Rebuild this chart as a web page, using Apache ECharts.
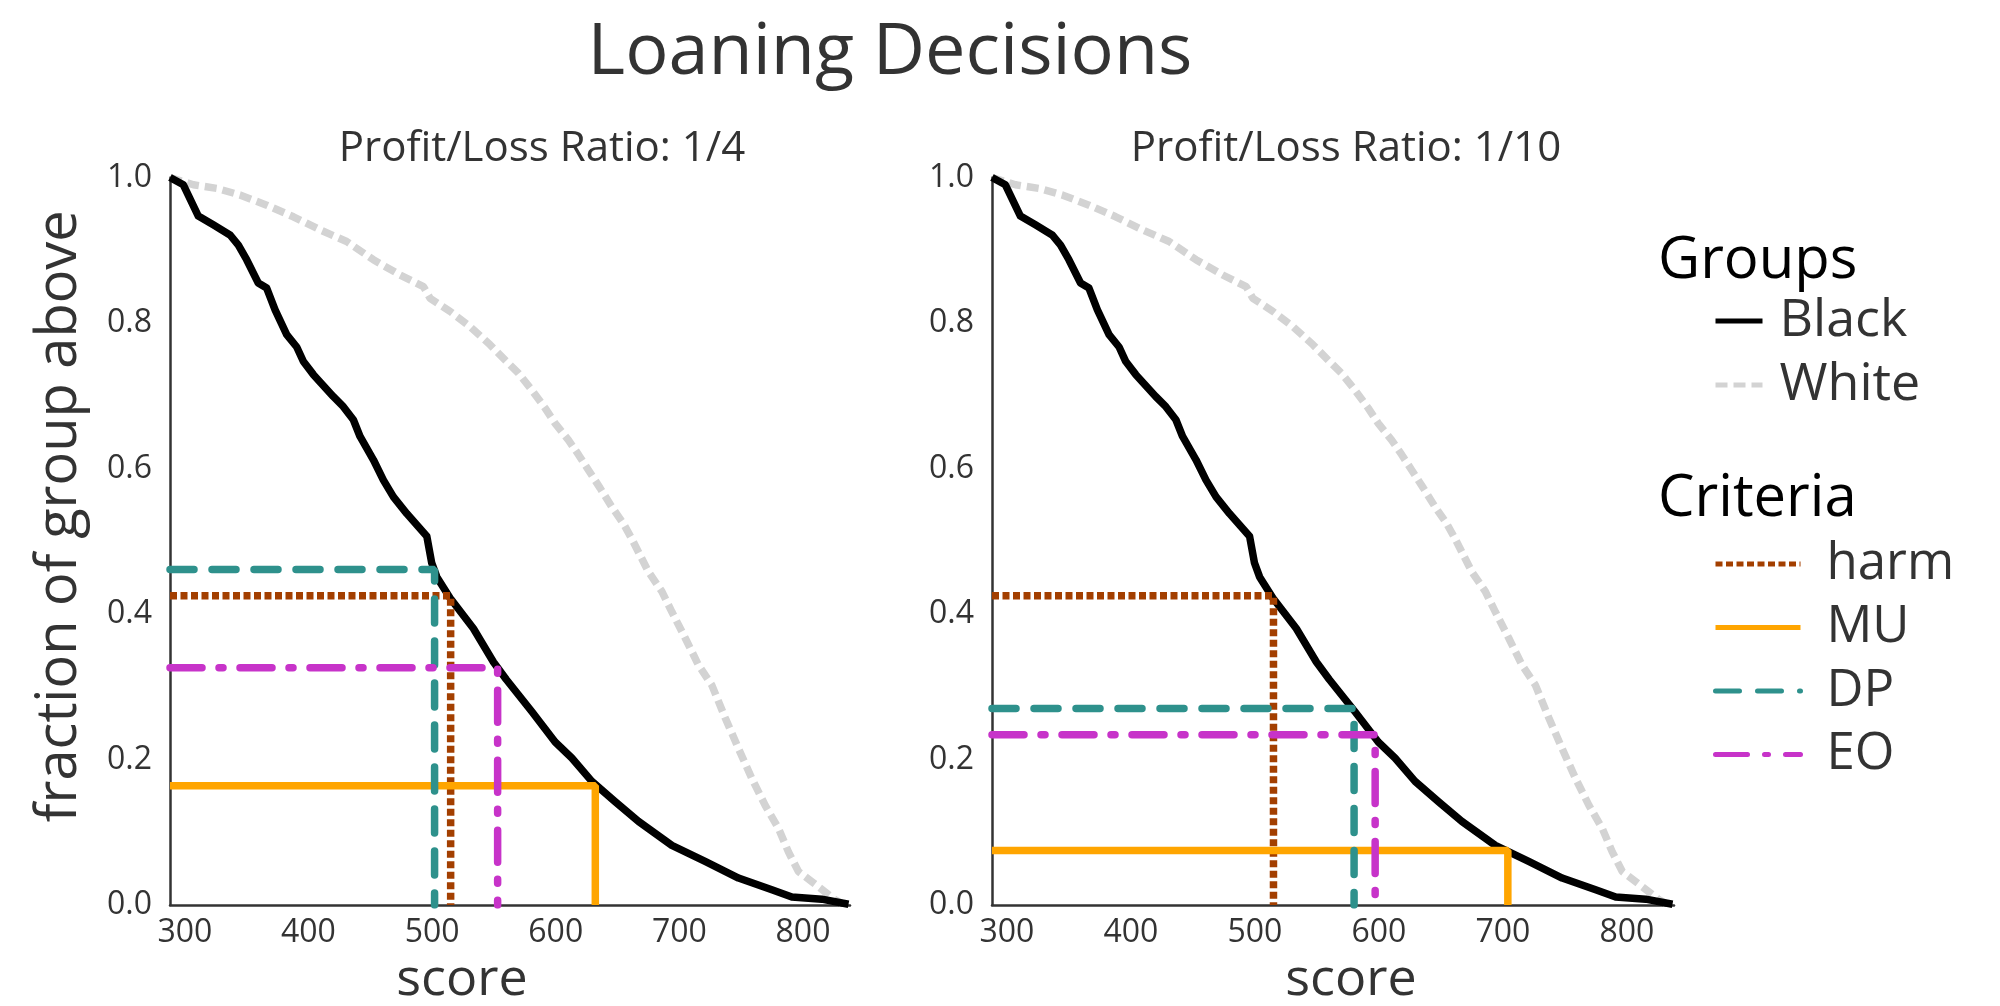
<!DOCTYPE html>
<html>
<head>
<meta charset="utf-8">
<title>Loaning Decisions</title>
<script src="https://cdn.jsdelivr.net/npm/echarts@6/dist/echarts.min.js"></script>
<style>
  html, body { margin: 0; padding: 0; background: #fff; }
  #main { width: 2000px; height: 1006px; }
</style>
</head>
<body>
<div id="main"></div>
<script>
// fraction of each group above a score
const blackScore = [288, 298.8, 310.9, 323, 336.5, 343.3, 350, 359.4, 366.2, 373, 382.4, 390.5, 395.9, 404, 420, 428.2, 436.3, 441.7, 452.5, 460.6, 468.7, 479.5, 495.7, 499.7, 503.8, 514.5, 533.4, 549.6, 560, 580.6, 599.5, 613, 629.2, 648, 666.9, 693.9, 720.8, 747.8, 774.8, 791, 815.2, 836.8]
const blackFrac = [1.0, 0.990, 0.947, 0.935, 0.921, 0.907, 0.887, 0.855, 0.848, 0.818, 0.784, 0.767, 0.747, 0.729, 0.699, 0.685, 0.667, 0.644, 0.612, 0.584, 0.561, 0.538, 0.507, 0.470, 0.451, 0.422, 0.380, 0.334, 0.310, 0.266, 0.224, 0.202, 0.170, 0.142, 0.115, 0.082, 0.060, 0.037, 0.021, 0.011, 0.008, 0.001]
const whiteScore = [288, 306.9, 325.8, 344.6, 366.2, 387.8, 409.4, 430.9, 452.5, 474.1, 493, 498.4, 514.5, 530.7, 546.9, 559.7, 569.8, 580.6, 591.4, 599.5, 610.3, 618.4, 626.4, 635.9, 645.4, 654.8, 661.6, 675, 685.8, 693.9, 704.7, 715.4, 726.3, 737.1, 747.8, 758.6, 769.4, 780.2, 788.2, 796.3, 807.2, 817.9, 826, 831.5]
const whiteFrac = [1.0, 0.990, 0.985, 0.976, 0.962, 0.946, 0.928, 0.912, 0.887, 0.866, 0.850, 0.834, 0.816, 0.795, 0.770, 0.748, 0.731, 0.708, 0.683, 0.662, 0.639, 0.619, 0.598, 0.573, 0.547, 0.524, 0.503, 0.458, 0.431, 0.403, 0.367, 0.330, 0.302, 0.257, 0.215, 0.174, 0.137, 0.105, 0.073, 0.046, 0.032, 0.018, 0.007, 0.002]

const criteria = ['harm', 'MU', 'DP', 'EO']
// black group cut-offs, profit/loss 1/4
const cutScore1 = [515, 632, 502, 553]
const cutFrac1 = [0.425, 0.164, 0.461, 0.326]
// profit/loss 1/10
const cutScore2 = [515, 704, 580, 597]
const cutFrac2 = [0.425, 0.075, 0.270, 0.234]

const panelTitles = ['Profit/Loss Ratio: 1/4', 'Profit/Loss Ratio: 1/10']
const xTicks = [300, 400, 500, 600, 700, 800]
const scoreMin = 288
const scoreMax = 838

const font = '"Open Sans", "Noto Sans", sans-serif'
const critStyle = {
  harm: { color: '#a33f00', type: [7, 3.5], cap: 'butt' },
  MU: { color: '#ffa500', type: 'solid', cap: 'butt' },
  DP: { color: '#2e918c', type: [24, 18], cap: 'round' },
  EO: { color: '#c733c9', type: [32, 17, 4, 17], cap: 'round' }
}

function panelSeries(idx, cutScore, cutFrac) {
  const list = [
    {
      name: 'White',
      type: 'line',
      xAxisIndex: idx,
      yAxisIndex: idx,
      symbol: 'none',
      silent: true,
      color: '#d3d3d3',
      lineStyle: { color: '#d3d3d3', width: 7.5, type: [12, 6] },
      data: whiteScore.map((s, i) => [s, whiteFrac[i]])
    },
    {
      name: 'Black',
      type: 'line',
      xAxisIndex: idx,
      yAxisIndex: idx,
      symbol: 'none',
      silent: true,
      color: '#000',
      lineStyle: { color: '#000', width: 7.5, join: 'round' },
      data: blackScore.map((s, i) => [s, blackFrac[i]])
    }
  ]
  criteria.forEach((c, i) => {
    const st = critStyle[c]
    list.push({
      name: c,
      type: 'line',
      xAxisIndex: idx,
      yAxisIndex: idx,
      symbol: 'none',
      silent: true,
      color: st.color,
      lineStyle: { color: st.color, width: 7.5, type: st.type, cap: st.cap },
      // horizontal from the y axis to the cut, then down to 0
      data: [[scoreMin, cutFrac[i]], [cutScore[i], cutFrac[i]], [cutScore[i], 0]]
    })
  })
  return list
}

var myChart = echarts.init(document.getElementById('main'))
var option

option = {
  backgroundColor: '#fff',
  animation: false,
  textStyle: { fontFamily: font },
  title: [
    {
      text: 'Loaning Decisions',
      left: 890,
      top: 13,
      textAlign: 'center',
      padding: 0,
      textStyle: { fontSize: 72, lineHeight: 80, fontWeight: 'normal', color: '#333', fontFamily: font }
    },
    {
      text: panelTitles[0],
      left: 542,
      top: 126,
      textAlign: 'center',
      padding: 0,
      textStyle: { fontSize: 42, lineHeight: 46, fontWeight: 'normal', color: '#333', fontFamily: font }
    },
    {
      text: panelTitles[1],
      left: 1346,
      top: 126,
      textAlign: 'center',
      padding: 0,
      textStyle: { fontSize: 42, lineHeight: 46, fontWeight: 'normal', color: '#333', fontFamily: font }
    },
    {
      text: 'Groups',
      left: 1658,
      top: 229,
      padding: 0,
      textStyle: { fontSize: 58, lineHeight: 64, fontWeight: 'normal', color: '#000', fontFamily: font }
    },
    {
      text: 'Criteria',
      left: 1658,
      top: 467,
      padding: 0,
      textStyle: { fontSize: 58, lineHeight: 64, fontWeight: 'normal', color: '#000', fontFamily: font }
    }
  ],
  legend: [
    {
      data: ['Black', 'White'],
      orient: 'vertical',
      left: 1713,
      top: 294,
      padding: 0,
      itemWidth: 47,
      itemHeight: 14,
      itemGap: 10,
      selectedMode: false,
      itemStyle: { opacity: 0 },
      lineStyle: { width: 5 },
      textStyle: { fontSize: 52, lineHeight: 54, color: '#333', fontFamily: font, padding: [0, 0, 0, 12] }
    },
    {
      data: criteria,
      orient: 'vertical',
      left: 1713,
      top: 537,
      padding: 0,
      itemWidth: 85,
      itemHeight: 14,
      itemGap: 9.5,
      selectedMode: false,
      itemStyle: { opacity: 0 },
      lineStyle: { width: 5 },
      textStyle: { fontSize: 51, lineHeight: 54, color: '#333', fontFamily: font, padding: [0, 0, 0, 21] }
    }
  ],
  grid: [
    { left: 170, top: 177.5, width: 680, height: 727.5, outerBoundsMode: 'none' },
    { left: 992, top: 177.5, width: 682, height: 727.5, outerBoundsMode: 'none' }
  ],
  xAxis: [0, 1].map(i => ({
    gridIndex: i,
    type: 'value',
    min: scoreMin,
    max: scoreMax,
    name: 'score',
    nameLocation: 'middle',
    nameGap: 34,
    nameTextStyle: { fontSize: 52, color: '#333', fontFamily: font, padding: i ? [0, 0, 0, 36] : [0, 96, 0, 0] },
    axisLine: { show: true, onZero: false, lineStyle: { color: '#333', width: 2.5 } },
    axisTick: { show: false },
    splitLine: { show: false },
    axisLabel: { customValues: xTicks, fontSize: 32, color: '#333', margin: 12, fontFamily: font }
  })),
  yAxis: [0, 1].map(i => ({
    gridIndex: i,
    type: 'value',
    min: 0,
    max: 1,
    interval: 0.2,
    name: i ? '' : 'fraction of group above',
    nameLocation: 'middle',
    nameGap: 82,
    nameTextStyle: { fontSize: 56, color: '#333', fontFamily: font, padding: [0, 0, 0, 50] },
    axisLine: { show: true, onZero: false, lineStyle: { color: '#333', width: 2.5 } },
    axisTick: { show: false },
    splitLine: { show: false },
    axisLabel: { fontSize: 32, color: '#333', margin: 18, fontFamily: font, formatter: v => v.toFixed(1) }
  })),
  series: panelSeries(0, cutScore1, cutFrac1).concat(panelSeries(1, cutScore2, cutFrac2))
}

option && myChart.setOption(option)
</script>
</body>
</html>
